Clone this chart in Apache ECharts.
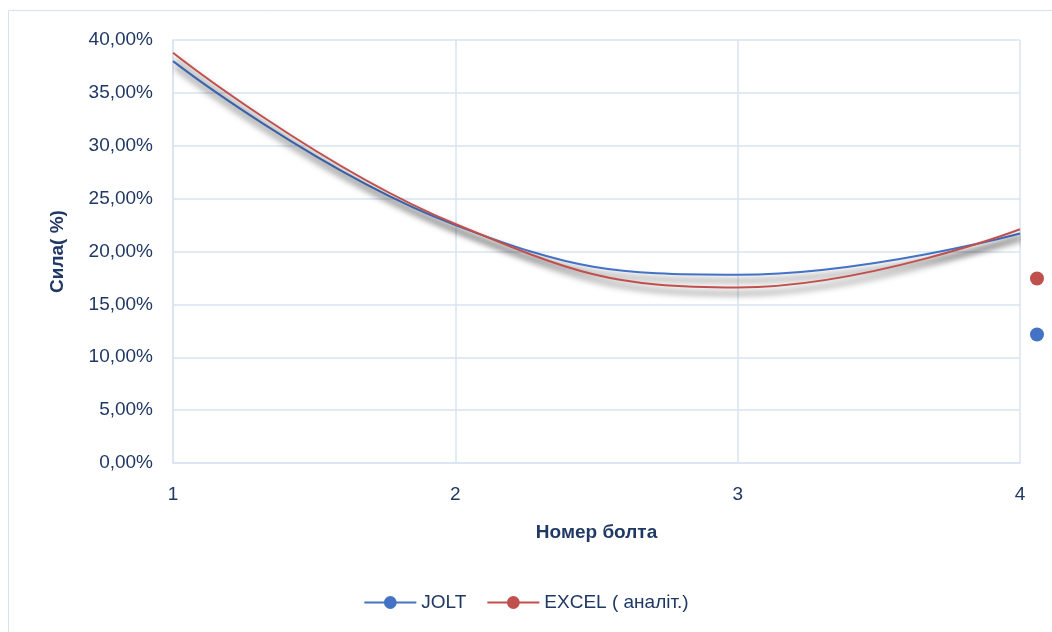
<!DOCTYPE html>
<html>
<head>
<meta charset="utf-8">
<script src="https://cdn.jsdelivr.net/npm/echarts@6/dist/echarts.min.js"></script>
<style>
  html, body { margin: 0; padding: 0; background: #ffffff; }
  #chart { width: 1052px; height: 632px; }
</style>
</head>
<body>
<div id="chart"></div>
<script>
// Bolt numbers along the x axis
const boltNumbers = [1, 2, 3, 4];
// Force share per bolt, in percent
const joltValues = [38.0, 22.5, 17.8, 21.7];
const excelValues = [38.8, 22.6, 16.6, 22.1];
const seriesNames = ['JOLT', 'EXCEL ( аналіт.)'];
const axisTitles = { x: 'Номер болта', y: 'Сила( %)' };

const blue = '#4472c4';
const red = '#c0504d';
const textColor = '#203864';
const gridColor = '#d9e3f3';
const fontFamily = '"Liberation Sans", "DejaVu Sans", sans-serif';

const toPairs = vals => boltNumbers.map((b, i) => [b, vals[i]]);

const lineSeries = (name, vals, color) => ({
  name: name,
  type: 'line',
  data: toPairs(vals),
  smooth: 0.45,
  showSymbol: false,
  symbol: 'circle',
  symbolSize: 13,
  itemStyle: { color: color },
  lineStyle: {
    color: color,
    width: 2,
    shadowColor: 'rgba(0,0,0,0.7)',
    shadowBlur: 6,
    shadowOffsetY: 6,
    shadowOffsetX: 2
  },
  emphasis: { disabled: true }
});

const chart = echarts.init(document.getElementById('chart'), null, { renderer: 'canvas' });
chart.setOption({
  animation: false,
  backgroundColor: '#ffffff',
  graphic: [{
    type: 'rect',
    shape: { x: 8.5, y: 10.5, width: 1100, height: 700 },
    style: { fill: 'none', stroke: '#d6e1f1', lineWidth: 1 },
    z: -1
  }],
  grid: { left: 173, right: 32, top: 40, bottom: 169 },
  legend: [{
    data: seriesNames,
    left: 'center',
    top: 588,
    itemWidth: 52,
    itemHeight: 16,
    itemGap: 20,
    textStyle: { color: textColor, fontSize: 19, fontFamily: fontFamily },
    selectedMode: false
  }, {
    data: [seriesNames[1], seriesNames[0]],
    orient: 'vertical',
    left: 1025,
    top: 265,
    icon: 'circle',
    itemWidth: 14,
    itemHeight: 14,
    itemGap: 39,
    textStyle: { color: 'rgba(0,0,0,0)', fontSize: 17, fontFamily: fontFamily },
    selectedMode: false
  }],
  xAxis: {
    type: 'value',
    min: 1,
    max: 4,
    interval: 1,
    name: axisTitles.x,
    nameLocation: 'middle',
    nameGap: 60,
    nameTextStyle: { color: textColor, fontSize: 19, fontWeight: 'bold', fontFamily: fontFamily },
    axisLine: { show: true, lineStyle: { color: gridColor, width: 1.5 } },
    axisTick: { show: false },
    axisLabel: { color: textColor, fontSize: 19, margin: 22, fontFamily: fontFamily },
    splitLine: { show: true, lineStyle: { color: gridColor, width: 1.5 } }
  },
  yAxis: {
    type: 'value',
    min: 0,
    max: 40,
    interval: 5,
    name: axisTitles.y,
    nameLocation: 'middle',
    nameGap: 106,
    nameRotate: 90,
    nameTextStyle: { color: textColor, fontSize: 19, fontWeight: 'bold', fontFamily: fontFamily },
    axisLine: { show: true, lineStyle: { color: gridColor, width: 1.5 } },
    axisTick: { show: false },
    axisLabel: {
      color: textColor,
      fontSize: 19,
      margin: 20,
      fontFamily: fontFamily,
      formatter: v => v.toFixed(2).replace('.', ',') + '%'
    },
    splitLine: { show: true, lineStyle: { color: gridColor, width: 1.5 } }
  },
  series: [
    lineSeries(seriesNames[0], joltValues, blue),
    lineSeries(seriesNames[1], excelValues, red)
  ]
});
</script>
</body>
</html>
